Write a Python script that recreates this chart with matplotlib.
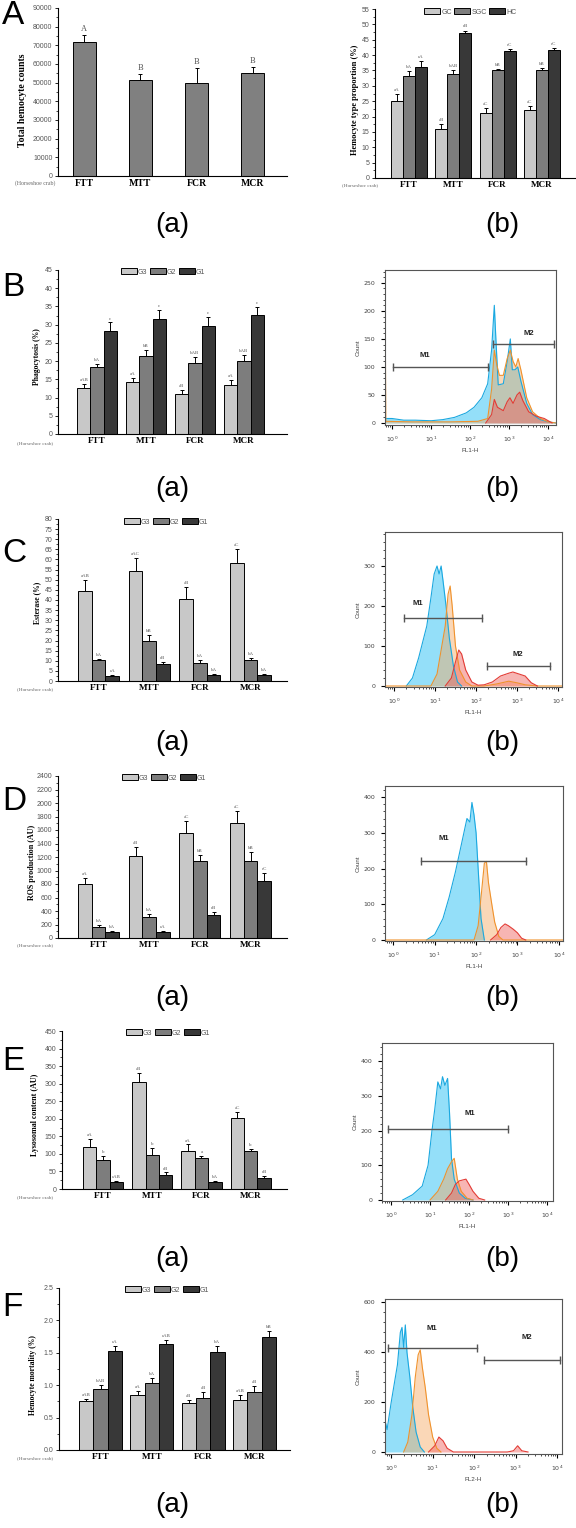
import numpy as np
import matplotlib
matplotlib.use("Agg")
import matplotlib.pyplot as plt
from matplotlib.ticker import MultipleLocator, LogLocator, NullFormatter

W, H = 576, 1528
SERIF = "Liberation Serif"
SANS = "Liberation Sans"

groups = ["FTT", "MTT", "FCR", "MCR"]

# ---- bar chart data ----
thc = [72000, 51500, 50000, 55000]
thc_err = [3500, 3000, 8000, 3500]
thc_marks = ["A", "B", "B", "B"]

type_names = ["GC", "SGC", "HC"]
type_vals = [[25, 16, 21, 22], [33.2, 34, 35.2, 35], [36, 47.2, 41.3, 41.8]]
type_err = [[2.3, 1.5, 1.7, 1.4], [1.5, 1.3, 0.3, 0.7], [2.0, 0.8, 0.7, 0.5]]
type_marks = [["aA", "aB", "aC", "aC"], ["bA", "bAB", "bB", "bB"], ["cA", "cB", "cC", "cC"]]

g_names = ["G3", "G2", "G1"]
phago = [[12.5, 14.2, 11.1, 13.5], [18.3, 21.5, 19.5, 20.0], [28.3, 31.5, 29.5, 32.6]]
phago_err = [[1.2, 1.3, 1.0, 1.2], [1.0, 1.5, 1.7, 1.8], [2.3, 2.5, 2.7, 2.2]]
phago_marks = [["aAB", "aA", "aB", "aA"], ["bA", "bB", "bAB", "bAB"], ["c", "c", "c", "c"]]

ester = [[44.5, 54.3, 40.3, 58.3], [10.2, 20.0, 9.0, 10.2], [2.4, 8.2, 2.8, 2.8]]
ester_err = [[5.5, 6.5, 6.0, 6.7], [0.8, 2.8, 1.3, 1.2], [0.8, 1.3, 0.8, 0.7]]
ester_marks = [["aAB", "aAC", "aB", "aC"], ["bA", "bB", "bA", "bA"], ["cA", "cB", "bA", "bA"]]

ros = [[800, 1210, 1560, 1700], [170, 310, 1140, 1140], [85, 90, 340, 840]]
ros_err = [[85, 140, 170, 180], [30, 40, 90, 140], [15, 20, 40, 130]]
ros_marks = [["aA", "aB", "aC", "aC"], ["bA", "bA", "bB", "bB"], ["bA", "cA", "cB", "cC"]]

lyso = [[120, 305, 107, 202], [83, 98, 87, 107], [20, 40, 20, 30]]
lyso_err = [[22, 25, 20, 18], [12, 20, 8, 8], [3, 7, 3, 7]]
lyso_marks = [["aA", "aB", "aA", "aC"], ["b", "b", "a", "b"], ["cAB", "cB", "bA", "cB"]]

mort = [[0.75, 0.85, 0.72, 0.77], [0.94, 1.03, 0.81, 0.89], [1.53, 1.63, 1.51, 1.75]]
mort_err = [[0.04, 0.06, 0.05, 0.08], [0.06, 0.08, 0.09, 0.10], [0.08, 0.07, 0.10, 0.09]]
mort_marks = [["aAB", "aA", "aB", "aAB"], ["bAB", "bA", "aB", "aB"], ["cA", "cAB", "bA", "bB"]]

# ---- flow cytometry histograms (x = log10 of fluorescence) ----
b_cyan_x = [-0.18, 0.0, 0.3, 0.6, 1.0, 1.3, 1.6, 1.9, 2.1, 2.3, 2.45, 2.55, 2.62, 2.66, 2.72, 2.85, 2.95, 3.03, 3.08, 3.15, 3.22, 3.3, 3.45, 3.6, 3.8, 4.0, 4.2]
b_cyan_y = [8, 8, 5, 5, 4, 6, 10, 18, 28, 45, 70, 130, 210, 150, 68, 70, 110, 150, 95, 95, 100, 75, 35, 15, 6, 2, 0]
b_orange_x = [-0.18, -0.16, 0.5, 1.5, 2.2, 2.45, 2.55, 2.62, 2.68, 2.75, 2.85, 2.95, 3.03, 3.1, 3.17, 3.23, 3.3, 3.45, 3.6, 3.8, 4.0, 4.2]
b_orange_y = [270, 3, 2, 2, 3, 8, 60, 130, 105, 85, 85, 115, 130, 110, 100, 115, 95, 45, 20, 8, 2, 0]
b_red_x = [2.4, 2.55, 2.62, 2.7, 2.85, 2.95, 3.02, 3.1, 3.2, 3.27, 3.35, 3.5, 3.7, 3.9, 4.1]
b_red_y = [0, 15, 42, 28, 22, 38, 45, 35, 50, 55, 40, 20, 12, 8, 0]

c_cyan_x = [0.3, 0.45, 0.6, 0.7, 0.8, 0.9, 0.98, 1.05, 1.1, 1.15, 1.2, 1.27, 1.35, 1.45, 1.55, 1.65]
c_cyan_y = [0, 20, 70, 110, 150, 220, 280, 300, 280, 300, 260, 200, 120, 50, 10, 0]
c_orange_x = [-0.22, 0.9, 1.05, 1.15, 1.25, 1.32, 1.37, 1.42, 1.5, 1.6, 1.75, 1.9, 2.2, 2.5, 2.8, 3.0, 3.2, 3.5, 4.1]
c_orange_y = [0, 0, 30, 90, 150, 230, 250, 200, 100, 40, 10, 0, 0, 5, 12, 8, 3, 0, 0]
c_red_x = [1.25, 1.4, 1.5, 1.58, 1.65, 1.75, 1.9, 2.05, 2.2, 2.4, 2.6, 2.8, 2.9, 3.05, 3.2, 3.35, 3.5]
c_red_y = [0, 20, 60, 90, 80, 40, 10, 2, 3, 10, 25, 32, 35, 30, 25, 8, 0]

d_cyan_x = [0.8, 1.0, 1.2, 1.35, 1.5, 1.65, 1.78, 1.85, 1.9, 1.95, 2.0, 2.05, 2.12, 2.2]
d_cyan_y = [0, 15, 60, 120, 190, 270, 340, 330, 385, 350, 300, 200, 60, 0]
d_orange_x = [-0.2, 1.95, 2.05, 2.12, 2.2, 2.25, 2.3, 2.38, 2.45, 2.55, 2.65, 4.1]
d_orange_y = [0, 0, 40, 120, 215, 220, 160, 100, 50, 10, 0, 0]
d_red_x = [2.35, 2.5, 2.6, 2.7, 2.78, 2.9, 3.0, 3.1, 3.2]
d_red_y = [0, 15, 35, 45, 40, 30, 20, 5, 0]

e_cyan_x = [0.3, 0.55, 0.8, 0.95, 1.05, 1.12, 1.2, 1.27, 1.32, 1.38, 1.45, 1.5, 1.55, 1.62, 1.75, 1.9, 2.1]
e_cyan_y = [0, 15, 40, 100, 200, 260, 340, 320, 355, 330, 350, 250, 120, 60, 20, 5, 0]
e_orange_x = [1.0, 1.2, 1.35, 1.45, 1.55, 1.62, 1.7, 1.8, 1.95, 2.1]
e_orange_y = [0, 25, 60, 90, 110, 120, 60, 25, 5, 0]
e_red_x = [1.4, 1.55, 1.65, 1.75, 1.85, 1.92, 2.0, 2.1, 2.25, 2.4]
e_red_y = [0, 20, 45, 55, 58, 60, 45, 25, 5, 0]

f_cyan_x = [-0.15, -0.14, -0.1, 0.0, 0.08, 0.15, 0.22, 0.26, 0.3, 0.34, 0.38, 0.45, 0.52, 0.6, 0.7, 0.8]
f_cyan_y = [260, 120, 90, 200, 280, 350, 480, 500, 420, 510, 400, 300, 180, 80, 20, 0]
f_orange_x = [0.3, 0.4, 0.5, 0.58, 0.65, 0.7, 0.75, 0.82, 0.9, 1.0, 1.1, 1.2]
f_orange_y = [0, 40, 150, 300, 390, 410, 340, 260, 150, 60, 15, 0]
f_red_x = [0.9, 1.05, 1.15, 1.25, 1.35, 1.5, 2.8, 2.95, 3.05, 3.15, 3.3]
f_red_y = [0, 25, 60, 45, 15, 0, 0, 5, 25, 5, 0]

fig = plt.figure(figsize=(W / 100, H / 100), dpi=100)


def px_axes(l, t, r, b):
    return fig.add_axes([l / W, 1 - b / H, (r - l) / W, (b - t) / H])


def ftext(x, y, s, **kw):
    fig.text(x / W, 1 - y / H, s, **kw)


def bar_panel(box, c0, step, bw, ymax, ystep, series, errs, colors, marks,
              names=None, leg_xy=None, mark_size=3.5, cat_size=6.5, fmt=None):
    l, t, r, b = box
    ax = px_axes(l, t, r, b)
    ax.set_xlim((l - c0) / step, (r - c0) / step)
    ax.set_ylim(0, ymax)
    n = len(series)
    w = bw / step
    x = np.arange(len(groups))
    for i in range(n):
        xi = x + (i - (n - 1) / 2) * w
        ax.bar(xi, series[i], w, color=colors[i], edgecolor="black", linewidth=0.7,
               label=names[i] if names else None, zorder=2)
        ax.errorbar(xi, series[i], yerr=[np.zeros(len(xi)), errs[i]], fmt="none",
                    ecolor="black", elinewidth=0.7, capsize=1.5, capthick=0.7, zorder=1)
        for xx, v, e, m in zip(xi, series[i], errs[i], marks[i]):
            ax.text(xx, v + e + ymax * 0.012, m, ha="center", va="bottom",
                    fontsize=mark_size, family=SERIF, color="#555")
    for s in ["top", "right"]:
        ax.spines[s].set_visible(False)
    for s in ["left", "bottom"]:
        ax.spines[s].set_linewidth(0.8)
    ax.yaxis.set_major_locator(MultipleLocator(ystep))
    ax.yaxis.set_minor_locator(MultipleLocator(ystep / 2))
    if fmt:
        ax.yaxis.set_major_formatter(fmt)
    ax.tick_params(axis="y", which="major", labelsize=5, length=2.5, width=0.6,
                   labelcolor="#555", pad=1.5)
    ax.tick_params(axis="y", which="minor", length=1.3, width=0.5)
    ax.set_xticks(x)
    ax.set_xticklabels(groups, fontsize=cat_size, family=SERIF, fontweight="bold")
    ax.tick_params(axis="x", length=0, pad=2)
    for lab in ax.get_yticklabels():
        lab.set_family(SANS)
    if names:
        ax.legend(loc="center", bbox_to_anchor=(leg_xy[0] / W, 1 - leg_xy[1] / H),
                  bbox_transform=fig.transFigure, ncol=3, frameon=False,
                  prop={"family": SANS, "size": 5}, labelcolor="#555",
                  handlelength=2.3, handleheight=0.9, handletextpad=0.2,
                  columnspacing=0.3, borderpad=0, borderaxespad=0)
    return ax


def flow_panel(box, xlim, ylim, ystep, curves, gates, xlabel):
    ax = px_axes(*box)
    ax.set_xscale("log")
    ax.set_xlim(10 ** xlim[0], 10 ** xlim[1])
    ax.set_ylim(*ylim)
    for lx, ly, fc, ec, a in curves:
        xs = np.power(10.0, lx)
        ax.fill_between(xs, ly, 0, color=fc, alpha=a, lw=0)
        ax.plot(xs, ly, color=ec, lw=0.8)
    for name, x1, x2, y, tx, ty in gates:
        ax.plot([10 ** x1, 10 ** x2], [y, y], color="#555", lw=1.0, marker="|", ms=6, mew=1.0)
        ax.text(10 ** tx, ty, name, ha="center", va="center", fontsize=5.5,
                fontweight="bold", family=SANS, color="#222")
    ax.set_xticks([1, 10, 100, 1000, 10000])
    ax.xaxis.set_minor_locator(LogLocator(base=10, subs=np.arange(2, 10)))
    ax.xaxis.set_minor_formatter(NullFormatter())
    ax.yaxis.set_major_locator(MultipleLocator(ystep))
    ax.yaxis.set_minor_locator(MultipleLocator(ystep / 5))
    ax.tick_params(which="major", labelsize=4.5, length=3, width=0.8, labelcolor="#444", pad=4)
    ax.tick_params(which="minor", length=1.5, width=0.5)
    for s in ax.spines.values():
        s.set_linewidth(0.8)
        s.set_color("#555")
    ax.set_xlabel(xlabel, fontsize=4.5, family=SANS, color="#444", labelpad=3)
    ax.set_ylabel("Count", fontsize=4.5, family=SANS, color="#444", labelpad=2)
    return ax


LIGHT, MID, DARK = "#c8c8c8", "#7d7d7d", "#383838"
CY_F, CY_E = "#3cc6f5", "#1aa8e0"
OR_F, OR_E = "#f4a860", "#f0922c"
RD_F, RD_E = "#ef5c58", "#e33c36"


def trio(cx, cy, ox, oy, rx, ry):
    return [(cx, cy, CY_F, CY_E, 0.55), (ox, oy, OR_F, OR_E, 0.45), (rx, ry, RD_F, RD_E, 0.45)]


# ---- Row A ----
bar_panel((58, 8, 287, 176), 84, 56.3, 23, 90000, 10000, [thc], [thc_err], ["#808080"],
          [thc_marks], mark_size=6, cat_size=7)
ftext(23, 100, "Total hemocyte counts", rotation=90, ha="center", va="center",
      fontsize=7, family=SERIF, fontweight="bold")
ftext(35, 183, "(Horseshoe crab)", ha="center", va="center", fontsize=4.2, family=SERIF, color="#666")

bar_panel((375, 9, 575, 178), 409, 44.3, 12, 55, 5, type_vals, type_err, [LIGHT, MID, DARK],
          type_marks, names=type_names, leg_xy=(470, 12), cat_size=6.5)
ftext(355, 100, "Hemocyte type proportion (%)", rotation=90, ha="center", va="center",
      fontsize=6, family=SERIF, fontweight="bold")
ftext(360, 185, "(Horseshoe crab)", ha="center", va="center", fontsize=3.8, family=SERIF, color="#666")

# ---- Rows B-F, left bar charts ----
rows = [
    ((58, 270, 287, 434), 97, 49, 13.3, 45, 5, phago, phago_err, phago_marks, (163, 272),
     "Phagocytosis (%)", 37, 357, 5.5, 443, None),
    ((58, 519, 287, 681), 98.5, 50.7, 13.7, 80, 5, ester, ester_err, ester_marks, (166, 522),
     "Esterase (%)", 37, 603, 5.5, 689, None),
    ((58, 776, 287, 938), 98.5, 50.7, 13.7, 2400, 200, ros, ros_err, ros_marks, (164, 778),
     "ROS production (AU)", 32, 862, 5.8, 945, None),
    ((62, 1031, 287, 1189), 103, 49.2, 13.4, 450, 50, lyso, lyso_err, lyso_marks, (168, 1033),
     "Lysosomal content (AU)", 35, 1115, 5.8, 1197, None),
    ((59, 1288, 290, 1450), 100.5, 51.3, 14.3, 2.5, 0.5, mort, mort_err, mort_marks, (167, 1290),
     "Hemocyte mortality (%)", 33, 1375, 5.5, 1458, "{x:.1f}"),
]
for box, c0, step, bw, ymax, ystep, vals, errs, marks, leg, ylab, yx, yy, ys, hy, fmt in rows:
    bar_panel(box, c0, step, bw, ymax, ystep, vals, errs, [LIGHT, MID, DARK], marks,
              names=g_names, leg_xy=leg, fmt=fmt)
    ftext(yx, yy, ylab, rotation=90, ha="center", va="center", fontsize=ys,
          family=SERIF, fontweight="bold")
    ftext(35, hy, "(Horseshoe crab)", ha="center", va="center", fontsize=3.8, family=SERIF, color="#666")

# ---- Rows B-F, right flow histograms ----
flow_panel((385, 270, 556, 425), (-0.18, 4.2), (-3.6, 273), 50,
           trio(b_cyan_x, b_cyan_y, b_orange_x, b_orange_y, b_red_x, b_red_y),
           [("M1", 0.03, 2.46, 100, 0.85, 120), ("M2", 2.59, 4.15, 141, 3.5, 160)], "FL1-H")
flow_panel((385, 532, 562, 687), (-0.22, 4.1), (-2.5, 385), 100,
           trio(c_cyan_x, c_cyan_y, c_orange_x, c_orange_y, c_red_x, c_red_y),
           [("M1", 0.24, 2.15, 170, 0.58, 207), ("M2", 2.27, 3.8, 50, 3.02, 80)], "FL1-H")
flow_panel((385, 786, 563, 941), (-0.2, 4.1), (-2.8, 431), 100,
           trio(d_cyan_x, d_cyan_y, d_orange_x, d_orange_y, d_red_x, d_red_y),
           [("M1", 0.68, 3.2, 221, 1.22, 285)], "FL1-H")
flow_panel((382, 1043, 553, 1201), (-0.23, 4.15), (-2.9, 452), 100,
           trio(e_cyan_x, e_cyan_y, e_orange_x, e_orange_y, e_red_x, e_red_y),
           [("M1", -0.08, 3.0, 205, 2.03, 250)], "FL1-H")
flow_panel((385, 1299, 562, 1454), (-0.15, 4.12), (-8, 614), 200,
           trio(f_cyan_x, f_cyan_y, f_orange_x, f_orange_y, f_red_x, f_red_y),
           [("M1", -0.07, 2.07, 418, 0.99, 494), ("M2", 2.24, 4.07, 369, 3.28, 458)], "FL2-H")

# ---- panel letters and sub labels ----
for letter, y in zip("ABCDEF", [16, 287, 553, 801, 1062, 1307]):
    ftext(2, y, letter, ha="left", va="center", fontsize=24, family=SANS)
for y in [225, 489, 743, 998, 1259, 1505]:
    ftext(172, y, "(a)", ha="center", va="center", fontsize=20, family=SANS)
    ftext(502, y, "(b)", ha="center", va="center", fontsize=20, family=SANS)

fig.savefig("out.png", dpi=100)
